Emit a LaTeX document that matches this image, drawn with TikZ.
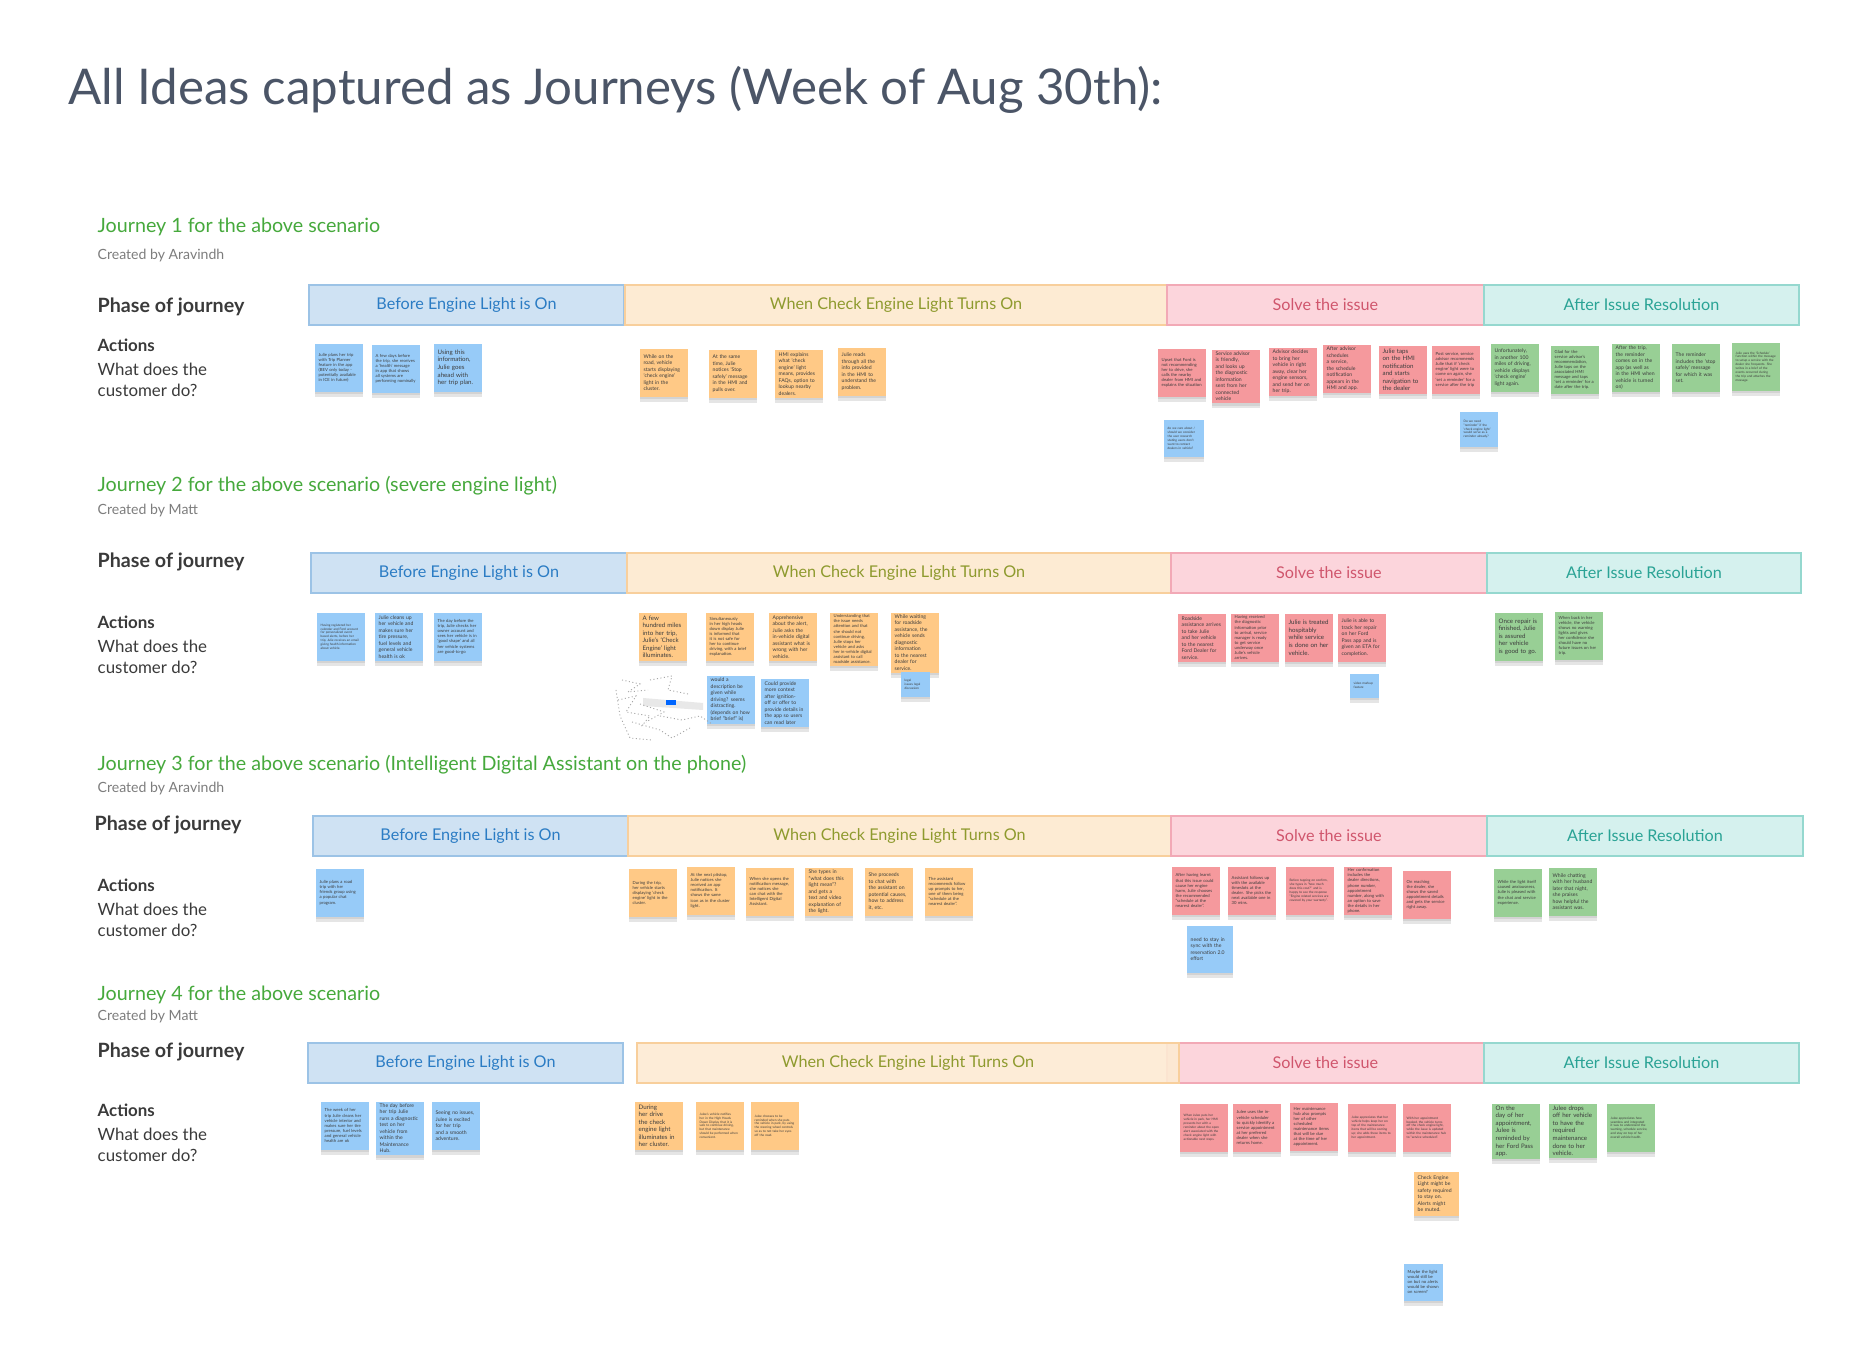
\documentclass[tikz,border=0pt]{standalone}
\usepackage{fontspec}
\setmainfont{Lato}
\usetikzlibrary{shadows}

\definecolor{titlegray}{HTML}{4B5567}
\definecolor{jgreen}{HTML}{46A93C}
\definecolor{bygray}{HTML}{7D7D7D}
\definecolor{labeldark}{HTML}{3A3A3A}
\definecolor{notetext}{HTML}{3C3C3C}
\definecolor{noteblue}{HTML}{97CBF8}
\definecolor{noteorange}{HTML}{FFC986}
\definecolor{notered}{HTML}{F5999D}
\definecolor{notegreen}{HTML}{98CF95}
\definecolor{befill}{HTML}{CFE2F3}
\definecolor{bedraw}{HTML}{9CC3E6}
\definecolor{betext}{HTML}{2B7CC4}
\definecolor{whfill}{HTML}{FDEBD3}
\definecolor{whdraw}{HTML}{F8CF9C}
\definecolor{whtext}{HTML}{8E9A2E}
\definecolor{sofill}{HTML}{FCD5DC}
\definecolor{sodraw}{HTML}{F2A9B6}
\definecolor{sotext}{HTML}{D0566D}
\definecolor{affill}{HTML}{D5F1EE}
\definecolor{afdraw}{HTML}{95D8CF}
\definecolor{aftext}{HTML}{2AA395}

\tikzset{
  note/.style={anchor=north west, minimum width=0.48cm, minimum height=0.48cm,
    text width=0.40cm, inner xsep=0.04cm, inner ysep=0.02cm, align=left, text=notetext,
    execute at begin node={\hyphenpenalty=10000\relax},
    drop shadow={shadow xshift=0cm, shadow yshift=-0.05cm, opacity=0.10, fill=black},
    drop shadow={shadow xshift=0cm, shadow yshift=-0.025cm, opacity=0.08, fill=black}},
  bnote/.style={note, fill=noteblue},
  onote/.style={note, fill=noteorange},
  rnote/.style={note, fill=notered},
  gnote/.style={note, fill=notegreen},
  xs/.style={font=\fontsize{0.9}{1.1}\selectfont},
  sm/.style={font=\fontsize{1.2}{1.45}\selectfont},
  md/.style={font=\fontsize{1.45}{1.85}\selectfont},
  lg/.style={font=\fontsize{1.75}{2.15}\selectfont},
  phase/.style={anchor=north west, minimum height=0.40cm, inner sep=0pt, line width=0.5pt,
    font=\fontsize{4.6}{5.4}\selectfont},
  before/.style={phase, fill=befill, draw=bedraw, text=betext},
  when/.style={phase, fill=whfill, draw=whdraw, text=whtext},
  solve/.style={phase, fill=sofill, draw=sodraw, text=sotext},
  after/.style={phase, fill=affill, draw=afdraw, text=aftext},
  jtitle/.style={anchor=west, inner sep=0pt, text=jgreen, font=\fontsize{5.6}{6.5}\selectfont},
  jby/.style={anchor=west, inner sep=0pt, text=bygray, font=\fontsize{4.0}{4.8}\selectfont},
  jphase/.style={anchor=west, inner sep=0pt, text=labeldark, font=\fontsize{5.6}{6.5}\selectfont\bfseries},
  jact/.style={anchor=west, inner sep=0pt, text=labeldark, font=\fontsize{4.8}{6}\selectfont\bfseries},
  jq/.style={anchor=west, inner sep=0pt, align=left, text=labeldark, font=\fontsize{4.8}{6}\selectfont},
  scribble/.style={gray!70, line width=0.25pt, dash pattern=on 0.3pt off 0.7pt}
}

\begin{document}
\begin{tikzpicture}[x=0.01cm,y=-0.01cm]
    \fill[white] (0,0) rectangle (1872,1368);
    \useasboundingbox (0,0) rectangle (1872,1368);

    \node[anchor=west, inner sep=0pt, text=titlegray, font=\fontsize{14}{16}\selectfont] (title) at (68,90) {All Ideas captured as Journeys (Week of Aug 30th):};

    %%%%%%%%%% Journey 1 %%%%%%%%%%
    \node[jtitle] (j1title) at (97,227) {Journey 1 for the above scenario};
    \node[jby] (j1by) at (97,256) {Created by Aravindh};
    \node[jphase] (j1phase) at (97,307) {Phase of journey};
    \node[jact] (j1act) at (97,345) {Actions};
    \node[jq] (j1q) at (97,380) {What does the\\customer do?};

    \node[before, minimum width=3.15cm] (j1before) at (308,284) {Before Engine Light is On};
    \node[when, minimum width=5.42cm] (j1when) at (624,284) {When Check Engine Light Turns On};
    \node[solve, minimum width=3.17cm] (j1solve) at (1166,284) {Solve the issue};
    \node[after, minimum width=3.15cm] (j1after) at (1483,284) {After Issue Resolution};

    \node[bnote, sm] (j1b1) at (314,343) {Julie plans her trip with Trip Planner feature in the app (BEV only today - potentially available in ICE in future)};
    \node[bnote, sm] (j1b2) at (371,344) {A few days before the trip, she receives a `health' message in app that shows all systems are performing nominally};
    \node[bnote, lg] (j1b3) at (433,343) {Using this information, Julie goes ahead with her trip plan.};

    \node[onote, md] (j1o1) at (639,348) {While on the road, vehicle starts displaying `check engine' light in the cluster.};
    \node[onote, md] (j1o2) at (708,349) {At the same time, Julie notices `Stop safely' message in the HMI and pulls over.};
    \node[onote, md] (j1o3) at (774,349) {HMI explains what `check engine' light means, provides FAQs, option to lookup nearby dealers.};
    \node[onote, md] (j1o4) at (837,347) {Julie reads through all the info provided in the HMI to understand the problem.};

    \node[rnote, sm] (j1r1) at (1157,348) {Upset that Ford is not recommending her to drive, she calls the nearby dealer from HMI and explains the situation};
    \node[rnote, md] (j1r2) at (1211,349) {Service advisor is friendly, and looks up the diagnostic information sent from her connected vehicle};
    \node[rnote, md] (j1r3) at (1268,347) {Advisor decides to bring her vehicle in right away, clear her engine sensors, and send her on her trip.};
    \node[rnote, md] (j1r4) at (1322,344) {After advisor schedules a service, the schedule notification appears in the HMI and app.};
    \node[rnote, lg] (j1r5) at (1378,345) {Julie taps on the HMI notification and starts navigation to the dealer};
    \node[rnote, sm] (j1r6) at (1431,345) {Post service, service advisor recommends Julie that if `check engine' light were to come on again, she `set a reminder' for a service after the trip};

    \node[bnote, xs, minimum width=0.38cm, minimum height=0.37cm, text width=0.32cm] (j1q1) at (1163,419) {do we care about / should we consider the user research stating users don't want to contact dealers in vehicle?};
    \node[bnote, xs, minimum width=0.36cm, minimum height=0.35cm, text width=0.30cm] (j1q2) at (1459,411) {Do we need ''reminder'' if the `check engine light' would serve as a reminder already?};

    \node[gnote, md] (j1g1) at (1490,343) {Unfortunately, in another 100 miles of driving, vehicle displays `check engine' light again.};
    \node[gnote, sm] (j1g2) at (1550,345) {Glad for the service advisor's recommendation, Julie taps on the associated HMI message and taps `set a reminder' for a date after the trip.};
    \node[gnote, md] (j1g3) at (1611,343) {After the trip, the reminder comes on in the app (as well as in the HMI when vehicle is turned on)};
    \node[gnote, md] (j1g4) at (1671,343) {The reminder includes the `stop safely' message for which it was set.};
    \node[gnote, xs] (j1g5) at (1731,342) {Julie uses the `Schedule' function within the message to setup a service with the dealer she frequents. She writes in a brief of the events occurred during the trip and attaches the message.};

    %%%%%%%%%% Journey 2 %%%%%%%%%%
    \node[jtitle] (j2title) at (97,486) {Journey 2 for the above scenario (severe engine light)};
    \node[jby] (j2by) at (97,511) {Created by Matt};
    \node[jphase] (j2phase) at (97,562) {Phase of journey};
    \node[jact] (j2act) at (97,622) {Actions};
    \node[jq] (j2q) at (97,657) {What does the\\customer do?};

    \node[before, minimum width=3.16cm] (j2before) at (310,552) {Before Engine Light is On};
    \node[when, minimum width=5.44cm] (j2when) at (626,552) {When Check Engine Light Turns On};
    \node[solve, minimum width=3.16cm] (j2solve) at (1170,552) {Solve the issue};
    \node[after, minimum width=3.14cm] (j2after) at (1486,552) {After Issue Resolution};

    \node[bnote, xs] (j2b1) at (316,612) {Having registered her calendar and Ford account for personalized event based alerts, before her trip, Julie receives an email giving health information about vehicle.};
    \node[bnote, md] (j2b2) at (374,612) {Julie cleans up her vehicle and makes sure her tire pressure, fuel levels and general vehicle health is ok};
    \node[bnote, sm] (j2b3) at (433,612) {The day before the trip, Julie checks her owner account and sees her vehicle is in `good shape' and all her vehicle systems are good-to-go};

    \node[onote, lg] (j2o1) at (638,612) {A few hundred miles into her trip, Julie's `Check Engine' light illuminates.};
    \node[onote, sm] (j2o2) at (705,612) {Simultaneously in her high heads down display Julie is informed that it is not safe for her to continue driving, with a brief explanation.};
    \node[onote, md] (j2o3) at (768,612) {Apprehensive about the alert, Julie asks the in-vehicle digital assistant what is wrong with her vehicle.};
    \node[onote, sm] (j2o4) at (829,612) {Understanding that the issue needs attention and that she should not continue driving, Julie stops her vehicle and asks her in-vehicle digital assistant to call roadside assistance.};
    \node[onote, md] (j2o5) at (890,612) {While waiting for roadside assistance, the vehicle sends diagnostic information to the nearest dealer for service.};

    \node[bnote, md] (j2q1) at (706,675) {would a description be given while driving? seems distracting. (depends on how brief ''brief'' is)};
    \node[bnote, md] (j2q2) at (760,678) {Could provide more context after ignition-off or offer to provide details in the app so users can read later};
    \node[bnote, xs, minimum width=0.25cm, minimum height=0.25cm, text width=0.21cm] (j2q3) at (900,671) {legal issues legal discussion};

    % sketch
    \fill[gray!18] (643,698) -- (703,703) -- (703,710) -- (643,706) -- cycle;
    \fill[blue!60!cyan] (666,700) rectangle (676,705);
    \draw[scribble] (622,680) -- (640,684) -- (628,692) -- (648,690);
    \draw[scribble] (618,700) -- (636,696) -- (626,712) -- (650,716) -- (640,728);
    \draw[scribble] (632,722) -- (660,730) -- (672,738) -- (690,728);
    \draw[scribble] (650,680) -- (672,676) -- (668,690) -- (688,694);
    \draw[scribble] (616,690) -- (620,716) -- (630,738) -- (652,740);
    \draw[scribble] (660,716) -- (682,720) -- (700,716) -- (712,724);
    \draw[scribble] (640,704) -- (664,712) -- (646,722);

    \node[rnote, md] (j2r1) at (1177,613) {Roadside assistance arrives to take Julie and her vehicle to the nearest Ford Dealer for service.};
    \node[rnote, sm] (j2r2) at (1230,613) {Having received the diagnostic information prior to arrival, service manager is ready to get service underway once Julie's vehicle arrives.};
    \node[rnote, lg] (j2r3) at (1284,613) {Julie is treated hospitably while service is done on her vehicle.};
    \node[rnote, md] (j2r4) at (1337,613) {Julie is able to track her repair on her Ford Pass app and is given an ETA for completion.};
    \node[bnote, xs, minimum width=0.25cm, minimum height=0.24cm, text width=0.21cm] (j2q4) at (1349,673) {video markup feature};

    \node[gnote, lg] (j2g1) at (1494,612) {Once repair is finished, Julie is assured her vehicle is good to go.};
    \node[gnote, sm] (j2g2) at (1554,611) {When back in her vehicle, the vehicle shows no warning lights and gives her confidence she should have no future issues on her trip.};

    %%%%%%%%%% Journey 3 %%%%%%%%%%
    \node[jtitle] (j3title) at (97,765) {Journey 3 for the above scenario (Intelligent Digital Assistant on the phone)};
    \node[jby] (j3by) at (97,789) {Created by Aravindh};
    \node[jphase] (j3phase) at (94,825) {Phase of journey};
    \node[jact] (j3act) at (97,885) {Actions};
    \node[jq] (j3q) at (97,920) {What does the\\customer do?};

    \node[before, minimum width=3.15cm] (j3before) at (312,815) {Before Engine Light is On};
    \node[when, minimum width=5.43cm] (j3when) at (627,815) {When Check Engine Light Turns On};
    \node[solve, minimum width=3.16cm] (j3solve) at (1170,815) {Solve the issue};
    \node[after, minimum width=3.16cm] (j3after) at (1486,815) {After Issue Resolution};

    \node[bnote, sm] (j3b1) at (315,868) {Julie plans a road trip with her friends group using a popular chat program.};

    \node[onote, sm] (j3o1) at (628,868) {During the trip, her vehicle starts displaying `check engine' light in the cluster.};
    \node[onote, sm] (j3o2) at (686,866) {At the next pitstop, Julie notices she received an app notification. It shows the same icon as in the cluster light.};
    \node[onote, sm] (j3o3) at (745,867) {When she opens the notification message, she notices she can chat with the Intelligent Digital Assistant.};
    \node[onote, md] (j3o4) at (804,867) {She types in ''what does this light mean''? and gets a text and video explanation of the light.};
    \node[onote, md] (j3o5) at (864,867) {She proceeds to chat with the assistant on potential causes, how to address it, etc.};
    \node[onote, sm] (j3o6) at (924,867) {The assistant recommends follow up prompts to her, one of them being ''schedule at the nearest dealer''.};

    \node[rnote, sm] (j3r1) at (1171,866) {After having learnt that this issue could cause her engine harm, Julie chooses the recommended ''schedule at the nearest dealer''.};
    \node[rnote, sm] (j3r2) at (1227,866) {Assistant follows up with the available timeslots at the dealer. She picks the next available one in 30 mins.};
    \node[rnote, xs] (j3r3) at (1285,866) {Before tapping on confirm, she types in ''how much does this cost?'' and is happy to see the response ''Engine related services are covered by your warranty''.};
    \node[rnote, sm] (j3r4) at (1343,866) {Her confirmation includes the dealer directions, phone number, appointment number, along with an option to save the details in her phone.};
    \node[rnote, sm] (j3r5) at (1402,870) {On reaching the dealer, she shows the saved appointment details and gets the service right away.};
    \node[bnote, md, minimum width=0.46cm, minimum height=0.47cm, text width=0.38cm] (j3q1) at (1186,925) {need to stay in sync with the reservation 2.0 effort};

    \node[gnote, sm] (j3g1) at (1493,868) {While the light itself caused anxiousness, Julie is pleased with the chat and service experience.};
    \node[gnote, md] (j3g2) at (1548,867) {While chatting with her husband later that night, she praises how helpful the assistant was.};

    %%%%%%%%%% Journey 4 %%%%%%%%%%
    \node[jtitle] (j4title) at (97,995) {Journey 4 for the above scenario};
    \node[jby] (j4by) at (97,1017) {Created by Matt};
    \node[jphase] (j4phase) at (97,1052) {Phase of journey};
    \node[jact] (j4act) at (97,1110) {Actions};
    \node[jq] (j4q) at (97,1145) {What does the\\customer do?};

    \node[before, minimum width=3.15cm] (j4before) at (307,1042) {Before Engine Light is On};
    \node[solve, minimum width=3.17cm] (j4solve) at (1166,1042) {Solve the issue};
    \node[when, minimum width=5.42cm, fill opacity=0.9, text opacity=1] (j4when) at (636,1042) {When Check Engine Light Turns On};
    \node[after, minimum width=3.15cm] (j4after) at (1483,1042) {After Issue Resolution};

    \node[bnote, sm] (j4b1) at (320,1101) {The week of her trip Julie cleans her vehicle interior and makes sure her tire pressure, fuel levels and general vehicle health are ok};
    \node[bnote, md] (j4b2) at (375,1101) {The day before her trip Julie runs a diagnostic test on her vehicle from within the Maintenance Hub.};
    \node[bnote, md] (j4b3) at (431,1101) {Seeing no issues, Julee is excited for her trip and a smooth adventure.};

    \node[onote, lg] (j4o1) at (634,1101) {During her drive the check engine light illuminates in her cluster.};
    \node[onote, xs] (j4o2) at (695,1101) {Julee's vehicle notifies her in the High Heads Down Display that it is safe to continue driving, but that maintenance should be performed when convenient.};
    \node[onote, xs] (j4o3) at (750,1101) {Julee chooses to be reminded when she puts the vehicle in park, by using the steering wheel controls so as to not take her eyes off the road.};

    \node[rnote, xs] (j4r1) at (1179,1103) {When Julee puts her vehicle in park, her HMI presents her with a reminder about the open alert associated with the check engine light with actionable next steps.};
    \node[rnote, sm] (j4r2) at (1232,1103) {Julee uses the in-vehicle scheduler to quickly identify a service appointment at her preferred dealer when she returns home.};
    \node[rnote, sm] (j4r3) at (1289,1102) {Her maintenance hub also prompts her of other scheduled maintenance items that will be due at the time of her appointment.};
    \node[rnote, xs] (j4r4) at (1347,1103) {Julee appreciates that her vehicle helps keep her on top of the maintenance items that will be coming up; she adds these items to her appointment.};
    \node[rnote, xs] (j4r5) at (1402,1103) {With her appointment booked, the vehicle turns off the check engine light, while the issue is updated within the maintenance hub to ''service scheduled''.};
    \node[onote, md, minimum width=0.44cm, minimum height=0.44cm, text width=0.37cm] (j4o4) at (1413,1171) {Check Engine Light might be safety required to stay on. Alerts might be muted.};
    \node[bnote, sm, minimum width=0.37cm, minimum height=0.37cm, text width=0.31cm] (j4q1) at (1403,1263) {Maybe the light would still be on but no alerts would be shown on screen?};

    \node[gnote, lg] (j4g1) at (1491,1103) {On the day of her appointment, Julee is reminded by her Ford Pass app.};
    \node[gnote, lg] (j4g2) at (1548,1103) {Julee drops off her vehicle to have the required maintenance done to her vehicle.};
    \node[gnote, xs] (j4g3) at (1606,1103) {Julee appreciates how seamless and integrated it was to understand the warning, schedule service, and stay on top of her overall vehicle health.};
\end{tikzpicture}
\end{document}
